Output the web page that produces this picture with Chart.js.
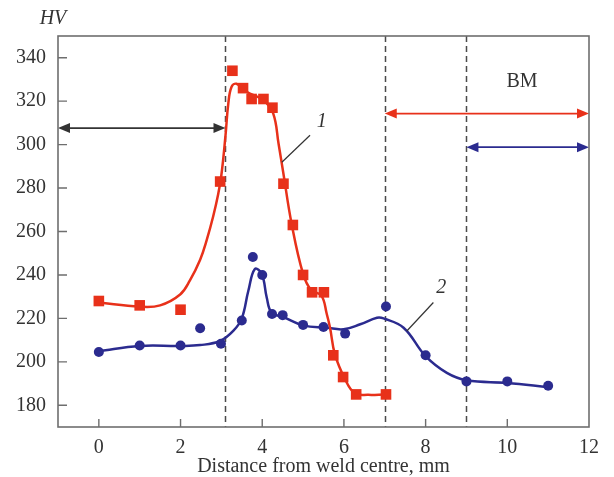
<!DOCTYPE html>
<html>
<head>
<meta charset="utf-8">
<script src="https://cdn.jsdelivr.net/npm/chart.js@4.4.1/dist/chart.umd.min.js"></script>
<style>
  html, body { margin: 0; padding: 0; background: #fff; }
  #wrap { width: 614px; height: 477px; }
</style>
</head>
<body>
<div id="wrap"><canvas id="hv-chart" width="614" height="477"></canvas></div>
<script>
// Valores (mm, HV)
const redX = [0, 1, 2, 2.97, 3.27, 3.53, 3.74, 4.03, 4.25, 4.52, 4.75, 5.0, 5.22, 5.51, 5.74, 5.98, 6.3, 7.03];
const redY = [228, 226, 224, 283, 334, 326, 321, 321, 317, 282, 263, 240, 232, 232, 203, 193, 185, 185];

const blueX = [0, 1, 2, 2.48, 2.99, 3.5, 3.77, 4.0, 4.24, 4.5, 5.0, 5.5, 6.03, 7.03, 8.0, 9.0, 10.0, 11.0];
const blueY = [204.5, 207.5, 207.5, 215.5, 208.3, 219, 248.3, 240, 222, 221.5, 217, 216, 213, 225.5, 203, 191, 191, 189];

// curvas ajustadas (lidas ao longo das linhas)
const redFitX = [0, 1, 1.5, 1.99, 2.23, 2.48, 2.64, 2.8, 2.92, 3.0, 3.1, 3.17, 3.25, 3.37, 3.62, 4.03, 4.27, 4.4, 4.52, 4.72, 5.0, 5.2, 5.45, 5.58, 5.66, 5.78, 6.03, 6.27, 6.6, 7.0];
const redFitY = [227.3, 225.4, 226, 231, 237.5, 247, 256, 267, 277, 286, 304, 319, 326.6, 328, 324.3, 320.4, 314.3, 300.4, 286.5, 263.5, 240.5, 233, 230.5, 222, 215.7, 203.4, 191.9, 185.5, 184.8, 185];

const blueFitX = [0, 1, 2, 2.48, 2.97, 3.29, 3.5, 3.66, 3.82, 3.99, 4.11, 4.23, 4.52, 5.0, 5.58, 5.99, 6.4, 6.81, 6.97, 7.46, 8.0, 8.52, 9.01, 10.0, 11.01];
const blueFitY = [205, 207.3, 207.3, 207.7, 209.6, 214.2, 220, 232.7, 242.7, 240.4, 229.6, 222.6, 220.6, 216.8, 215.7, 215, 217.3, 220.3, 220, 215.7, 202.6, 194.9, 191.5, 190.3, 188.3];

// eixos
const xTicks = [0, 2, 4, 6, 8, 10, 12];
const yTicks = [180, 200, 220, 240, 260, 280, 300, 320, 340];

// linhas tracejadas das zonas
const zoneLines = [3.1, 7, 9];

// setas: [x inicial, x final, y, cor]
const arrows = [
    [-1, 3.1, 307.6, '#333333'],
    [7, 12, 314.3, '#e8311a'],
    [9, 12, 298.8, '#2b2b8f']
];

// rótulos das curvas: texto, posição, linha de chamada
const curveLabels = [
    { text: '1', x: 5.46, y: 310.4, from: [5.17, 304.3], to: [4.48, 291.9] },
    { text: '2', x: 8.38, y: 234, from: [8.19, 227.3], to: [7.54, 214.2] }
];

const RED = '#e8311a';
const BLUE = '#2b2b8f';
const AXIS = '#6e6e6e';
const SERIF = '"Liberation Serif", "DejaVu Serif", serif';

function toPts(xs, ys) {
    return xs.map((x, i) => ({ x: x, y: ys[i] }));
}

// Plugin para desenhar moldura, marcas, tracejados, setas e textos
const decorPlugin = {
    id: 'decor',
    beforeDatasetsDraw(chart) {
        const ctx = chart.ctx;
        const xs = chart.scales.x;
        const a = chart.chartArea;
        ctx.save();
        ctx.strokeStyle = '#4a4a4a';
        ctx.lineWidth = 1.5;
        ctx.setLineDash([6, 4]);
        zoneLines.forEach(v => {
            const px = Math.round(xs.getPixelForValue(v)) + 0.5;
            ctx.beginPath();
            ctx.moveTo(px, a.top);
            ctx.lineTo(px, a.bottom);
            ctx.stroke();
        });
        ctx.restore();
    },
    afterDatasetsDraw(chart) {
        const ctx = chart.ctx;
        const xs = chart.scales.x, ys = chart.scales.y;
        const a = chart.chartArea;
        ctx.save();

        // setas
        arrows.forEach(([x0, x1, y, color]) => {
            const p0 = xs.getPixelForValue(x0), p1 = xs.getPixelForValue(x1);
            const py = ys.getPixelForValue(y);
            ctx.strokeStyle = color;
            ctx.fillStyle = color;
            ctx.lineWidth = 1.8;
            ctx.beginPath();
            ctx.moveTo(p0 + 8, py);
            ctx.lineTo(p1 - 8, py);
            ctx.stroke();
            [[p0, 1], [p1, -1]].forEach(([px, dir]) => {
                ctx.beginPath();
                ctx.moveTo(px, py);
                ctx.lineTo(px + dir * 12, py - 5);
                ctx.lineTo(px + dir * 12, py + 5);
                ctx.closePath();
                ctx.fill();
            });
        });

        // rótulos 1 e 2
        ctx.strokeStyle = '#333333';
        ctx.lineWidth = 1.2;
        ctx.fillStyle = '#333333';
        ctx.font = 'italic 20px ' + SERIF;
        ctx.textAlign = 'center';
        ctx.textBaseline = 'middle';
        curveLabels.forEach(l => {
            ctx.beginPath();
            ctx.moveTo(xs.getPixelForValue(l.from[0]), ys.getPixelForValue(l.from[1]));
            ctx.lineTo(xs.getPixelForValue(l.to[0]), ys.getPixelForValue(l.to[1]));
            ctx.stroke();
            ctx.fillText(l.text, xs.getPixelForValue(l.x), ys.getPixelForValue(l.y));
        });

        // BM
        ctx.font = '20px ' + SERIF;
        ctx.fillText('BM', xs.getPixelForValue(10.36), ys.getPixelForValue(328.9));

        // HV
        ctx.font = 'italic 20px ' + SERIF;
        ctx.fillText('HV', 53, 19);

        // moldura
        ctx.strokeStyle = AXIS;
        ctx.lineWidth = 1.6;
        ctx.strokeRect(a.left, a.top, a.right - a.left, a.bottom - a.top);

        // marcas para dentro
        ctx.lineWidth = 1.4;
        ctx.beginPath();
        yTicks.forEach(v => {
            const py = ys.getPixelForValue(v);
            ctx.moveTo(a.left, py);
            ctx.lineTo(a.left + 9, py);
        });
        xTicks.forEach(v => {
            if (v >= 12) return;
            const px = xs.getPixelForValue(v);
            ctx.moveTo(px, a.bottom);
            ctx.lineTo(px, a.bottom - 8);
        });
        ctx.stroke();
        ctx.restore();
    }
};

const ctx = document.getElementById('hv-chart').getContext('2d');
const chart = new Chart(ctx, {
    type: 'scatter',
    data: {
        datasets: [
            {
                label: '1',
                data: toPts(redX, redY),
                pointStyle: 'rect',
                pointRadius: 7.5,
                backgroundColor: RED,
                borderColor: RED,
                borderWidth: 0,
                order: 1
            },
            {
                label: '2',
                data: toPts(blueX, blueY),
                pointStyle: 'circle',
                pointRadius: 5,
                backgroundColor: BLUE,
                borderColor: BLUE,
                borderWidth: 0,
                order: 1
            },
            {
                label: 'fit 1',
                data: toPts(redFitX, redFitY),
                showLine: true,
                pointRadius: 0,
                borderColor: RED,
                borderWidth: 2.5,
                tension: 0.4,
                order: 2
            },
            {
                label: 'fit 2',
                data: toPts(blueFitX, blueFitY),
                showLine: true,
                pointRadius: 0,
                borderColor: BLUE,
                borderWidth: 2.5,
                tension: 0.4,
                order: 2
            }
        ]
    },
    options: {
        responsive: false,
        animation: false,
        layout: { padding: { top: 36, right: 25, left: 0, bottom: 0 } },
        plugins: {
            legend: { display: false },
            tooltip: { enabled: false }
        },
        scales: {
            x: {
                type: 'linear',
                min: -1,
                max: 12,
                afterBuildTicks: s => { s.ticks = xTicks.map(v => ({ value: v })); },
                afterFit: s => { s.height = 50; },
                grid: { display: false, drawTicks: false },
                border: { display: false },
                ticks: {
                    padding: 9,
                    color: '#333333',
                    maxRotation: 0,
                    font: { family: SERIF, size: 20 }
                },
                title: {
                    display: true,
                    text: 'Distance from weld centre, mm',
                    color: '#333333',
                    padding: { top: 0, bottom: -2 },
                    font: { family: SERIF, size: 20 }
                }
            },
            y: {
                type: 'linear',
                min: 170,
                max: 350,
                afterBuildTicks: s => { s.ticks = yTicks.map(v => ({ value: v })); },
                afterFit: s => { s.width = 58; },
                grid: { display: false, drawTicks: false },
                border: { display: false },
                ticks: {
                    padding: 12,
                    color: '#333333',
                    font: { family: SERIF, size: 20 }
                }
            }
        }
    },
    plugins: [decorPlugin]
});
</script>
</body>
</html>
